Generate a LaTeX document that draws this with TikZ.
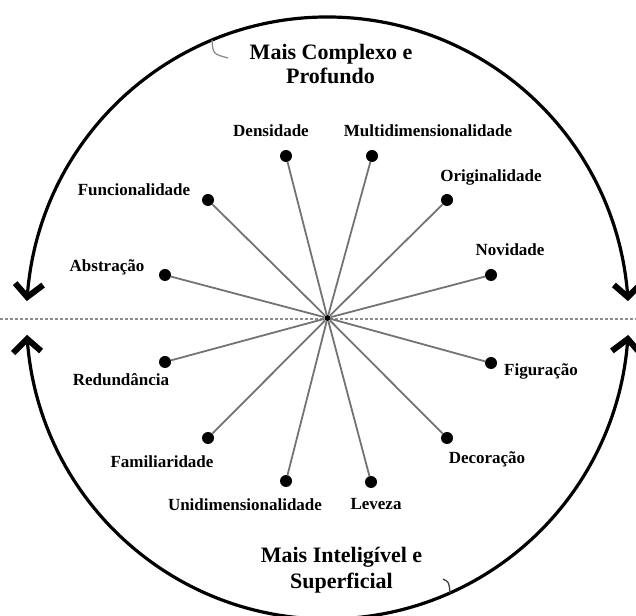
\documentclass[tikz,border=0pt]{standalone}
\usepackage{fontspec}
\setmainfont{Liberation Serif}
\begin{document}
\begin{tikzpicture}[x=1pt,y=1pt,
  spoke/.style={draw=black!55, line width=1.8pt},
  pin/.style={circle, fill=black, inner sep=0pt, minimum size=12pt},
  hub/.style={circle, fill=black, inner sep=0pt, minimum size=6pt},
  lbl/.style={font=\fontsize{17}{20}\selectfont\bfseries, inner sep=0pt, text height=0.66em, text depth=0pt},
  ttl/.style={font=\fontsize{22}{25}\selectfont\bfseries, inner sep=0pt, text height=0.66em, text depth=0pt},
  bigarc/.style={line width=3.2pt},
  hook/.style={draw=black!45, line width=1.3pt},
  axis/.style={draw=black!45, line width=1.6pt, dash pattern=on 3pt off 2pt},
  chev/.pic={\draw[line width=6pt, miter limit=4] (-13,13) -- (0,0) -- (15,13);},
]
\useasboundingbox (0,0) rectangle (636,615);

% horizontal divider
\coordinate (dl) at (0,296);
\coordinate (dr) at (636,296);
\draw[axis] (dl) -- (dr);

% outer circle split into two arcs
\coordinate (c0) at (327.5,297);
\draw[bigarc] (c0) ++(176:301) coordinate (ta) arc[start angle=176, end angle=4, radius=301] coordinate (tb);
\draw[bigarc] (c0) ++(184:301) coordinate (ba) arc[start angle=184, end angle=356, radius=301] coordinate (bb);

% arrow heads: downward on the upper arc, upward on the lower arc
\pic[rotate=-4]   at (ta) {chev};
\pic[rotate=4]    at (tb) {chev};
\pic[rotate=184]  at (ba) {chev};
\pic[rotate=176]  at (bb) {chev};

% small hooks on the arcs
\draw[hook] (212,575) .. controls (213,561) .. (228,557);
\draw[hook, draw=black!75] (443,36) .. controls (449,33) .. (450,22);

% titles
\node[ttl] (t1) at (331,559) {Mais Complexo e};
\node[ttl] (t2) at (330.5,535) {Profundo};
\node[ttl] (b1) at (341.5,56) {Mais Inteligível e};
\node[ttl] (b2) at (341.5,30) {Superficial};

% hub
\node[hub] (c) at (327.5,297) {};

% end points of the spokes
\node[pin] (p1)  at (286,459) {};
\node[pin] (p2)  at (372,459) {};
\node[pin] (p3)  at (447,415) {};
\node[pin] (p4)  at (491,340) {};
\node[pin] (p5)  at (491,252) {};
\node[pin] (p6)  at (447,177) {};
\node[pin] (p7)  at (371,133) {};
\node[pin] (p8)  at (286,134) {};
\node[pin] (p9)  at (208,177) {};
\node[pin] (p10) at (165,253) {};
\node[pin] (p11) at (165,340) {};
\node[pin] (p12) at (208,415) {};

\foreach \i in {1,...,12} \draw[spoke] (c) -- (p\i);

% labels
\node[lbl] (l1)  at (271,482) {Densidade};
\node[lbl] (l2)  at (428,482) {Multidimensionalidade};
\node[lbl] (l3)  at (491,437) {Originalidade};
\node[lbl] (l4)  at (510,363) {Novidade};
\node[lbl] (l5)  at (541,243) {Figuração};
\node[lbl] (l6)  at (487,155) {Decoração};
\node[lbl] (l7)  at (376,109) {Leveza};
\node[lbl] (l8)  at (245,108) {Unidimensionalidade};
\node[lbl] (l9)  at (162,151) {Familiaridade};
\node[lbl] (l10) at (121,233) {Redundância};
\node[lbl] (l11) at (107,347) {Abstração};
\node[lbl] (l12) at (134,423) {Funcionalidade};
\end{tikzpicture}
\end{document}
